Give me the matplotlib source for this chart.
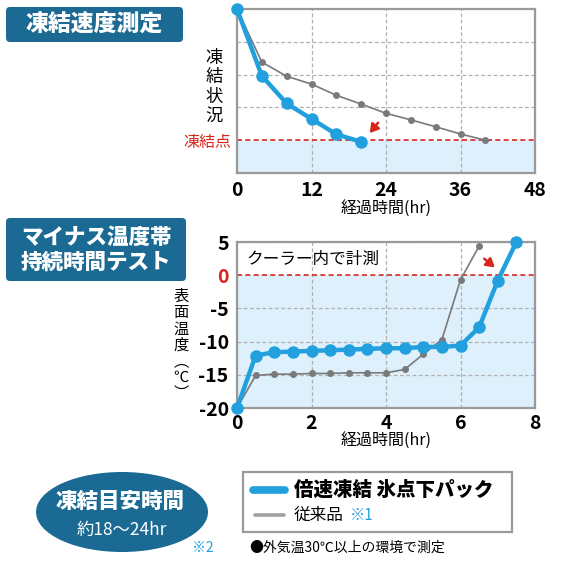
import matplotlib
matplotlib.use("Agg")
import matplotlib.pyplot as plt
from matplotlib.patches import FancyBboxPatch, Ellipse, Rectangle

plt.rcParams['font.family'] = ['Noto Sans CJK JP', 'DejaVu Sans']
plt.rcParams['axes.unicode_minus'] = False

# ---------------- data ----------------
# Top chart: freezing speed (hours vs. freezing state)
speed_hours_new = [0, 4, 8, 12, 16, 20]
speed_state_new = [5.0, 2.96, 2.12, 1.65, 1.18, 0.95]
speed_hours_old = [0, 4, 8, 12, 16, 20, 24, 28, 32, 36, 40]
speed_state_old = [5.0, 3.38, 2.95, 2.71, 2.37, 2.10, 1.82, 1.62, 1.41, 1.19, 1.0]
speed_xticks = [0, 12, 24, 36, 48]
freeze_level = 1

# Bottom chart: surface temperature vs hours
temp_hours_new = [0, 0.5, 1, 1.5, 2, 2.5, 3, 3.5, 4, 4.5, 5, 5.5, 6, 6.5, 7, 7.5]
temp_new = [-20, -12.1, -11.6, -11.5, -11.4, -11.3, -11.2, -11.1, -11.0, -11.0,
            -10.8, -10.8, -10.6, -7.85, -0.8, 5.0]
temp_hours_old = [0, 0.5, 1, 1.5, 2, 2.5, 3, 3.5, 4, 4.5, 5, 5.5, 6, 6.5]
temp_old = [-20, -15.1, -14.9, -14.9, -14.8, -14.8, -14.7, -14.7, -14.7, -14.2,
            -11.9, -9.7, -0.7, 4.4]
temp_xticks = [0, 2, 4, 6, 8]
temp_yticks = [-20, -15, -10, -5, 0, 5]

# ---------------- styles ----------------
BLUE = '#22a0de'
GRAY = '#7a7a7a'
TEAL = '#1a6a93'
FILL = '#ddf0fb'
GRID = '#b0b0b0'
SPINE = '#9a9a9a'
RED = '#d9261c'

fig = plt.figure(figsize=(5.7, 5.7), dpi=100)

# overlay in pixel coordinates for decorations
ov = fig.add_axes([0, 0, 1, 1], zorder=0)
ov.set_xlim(0, 570)
ov.set_ylim(570, 0)
ov.axis('off')
ov.patch.set_alpha(0)


def style_axes(ax):
    for s in ax.spines.values():
        s.set_color(SPINE)
        s.set_linewidth(1.6)
    ax.tick_params(length=0)
    ax.grid(True, color=GRID, linestyle=(0, (3, 2)), linewidth=0.9)
    ax.set_axisbelow(True)


# ---------- top chart ----------
ax1 = fig.add_axes([237 / 570, 1 - 173 / 570, 298 / 570, 164 / 570], zorder=2)
ax1.set_xlim(0, 48)
ax1.set_ylim(0, 5)
ax1.axhspan(0, freeze_level, color=FILL, zorder=0, lw=0)
style_axes(ax1)
ax1.set_xticks(speed_xticks, [str(v) for v in speed_xticks],
               fontsize=14, fontweight='bold')
ax1.set_yticks([freeze_level, 2, 3, 4], ['凍結点', '', '', ''], fontsize=11.5)
ax1.get_yticklabels()[0].set_color(RED)
gl = ax1.get_ygridlines()[0]
gl.set_color(RED)
gl.set_linewidth(1.2)
ax1.tick_params(axis='x', pad=6)
ax1.tick_params(axis='y', pad=4)
ax1.plot(speed_hours_old, speed_state_old, color=GRAY, lw=1.2, marker='o',
         ms=4, zorder=3, clip_on=False)
ax1.plot(speed_hours_new, speed_state_new, color=BLUE, lw=3.2, marker='o',
         ms=8, zorder=4, clip_on=False)
ax1.annotate('', xy=(21.1, 1.15), xytext=(23.0, 1.6),
             arrowprops=dict(arrowstyle='-|>,head_length=0.5,head_width=0.3',
                             color=RED, lw=1.8), zorder=5)
ax1.set_xlabel('経過時間(hr)', fontsize=11.5, labelpad=0)

ov.text(214, 87, '凍\n結\n状\n況', ha='center', va='center', fontsize=12.5,
        linespacing=1.1)

# ---------- bottom chart ----------
ax2 = fig.add_axes([237 / 570, 1 - 408 / 570, 298 / 570, 166 / 570], zorder=2)
ax2.set_xlim(0, 8)
ax2.set_ylim(-20, 5)
ax2.axhspan(-20, 0, color=FILL, zorder=0, lw=0)
style_axes(ax2)
ax2.set_xticks(temp_xticks, [str(v) for v in temp_xticks],
               fontsize=14, fontweight='bold')
ax2.set_yticks(temp_yticks, [str(v) for v in temp_yticks],
               fontsize=14, fontweight='bold')
zero_idx = temp_yticks.index(0)
ax2.get_yticklabels()[zero_idx].set_color(RED)
gl = ax2.get_ygridlines()[zero_idx]
gl.set_color(RED)
gl.set_linewidth(1.2)
ax2.tick_params(axis='x', pad=4)
ax2.tick_params(axis='y', pad=6)
ax2.plot(temp_hours_old, temp_old, color=GRAY, lw=1.2, marker='o', ms=4,
         zorder=3)
ax2.plot(temp_hours_new, temp_new, color=BLUE, lw=3.2, marker='o', ms=8,
         zorder=4, clip_on=False)
ax2.annotate('', xy=(6.98, 0.9), xytext=(6.58, 2.75),
             arrowprops=dict(arrowstyle='-|>,head_length=0.5,head_width=0.3',
                             color=RED, lw=1.8), zorder=5)
ax2.text(0.25, 2.4, 'クーラー内で計測', fontsize=12, va='center', ha='left')
ax2.set_xlabel('経過時間(hr)', fontsize=11.5, labelpad=0)

ov.text(181, 345, '表\n面\n温\n度\n︵\n℃\n︶', ha='center', va='center',
        fontsize=11, linespacing=0.93)

# ---------- title boxes ----------
ov.add_patch(FancyBboxPatch((6, 7), 177, 35,
                            boxstyle='round,pad=0,rounding_size=4',
                            fc=TEAL, ec='none'))
ov.text(94.5, 25, '凍結速度測定', color='white', fontsize=16.5,
        fontweight='black', ha='center', va='center')
ov.add_patch(FancyBboxPatch((6, 218), 180, 63,
                            boxstyle='round,pad=0,rounding_size=4',
                            fc=TEAL, ec='none'))
ov.text(96, 250, 'マイナス温度帯\n持続時間テスト', color='white', fontsize=15.5,
        fontweight='black', ha='center', va='center', linespacing=1.1)

# ---------- ellipse ----------
ov.add_patch(Ellipse((122, 512), 172, 80, fc=TEAL, ec='none'))
ov.text(120, 501, '凍結目安時間', color='white', fontsize=15.5,
        fontweight='black', ha='center', va='center')
ov.text(122, 530, '約18〜24hr', color='white', fontsize=12.5,
        ha='center', va='center')
ov.text(203, 548, '※2', color=BLUE, fontsize=10, ha='center', va='center')

# ---------- legend ----------
ov.add_patch(Rectangle((243, 472), 269, 60, fc='white', ec=SPINE, lw=1.6))
ov.plot([253, 285], [490, 490], color=BLUE, lw=5.5, solid_capstyle='round')
ov.plot([255, 284], [515, 515], color='#a0a0a0', lw=2.6, solid_capstyle='round')
ov.text(294, 490, '倍速凍結 氷点下パック', fontsize=14, fontweight='black',
        ha='left', va='center')
ov.text(294, 515, '従来品', fontsize=12, ha='left', va='center')
ov.text(350, 515, '※1', fontsize=11, color=BLUE, ha='left', va='center')
ov.text(249, 548, '●外気温30℃以上の環境で測定', fontsize=10, ha='left',
        va='center')

fig.savefig('out.png', dpi=100)
